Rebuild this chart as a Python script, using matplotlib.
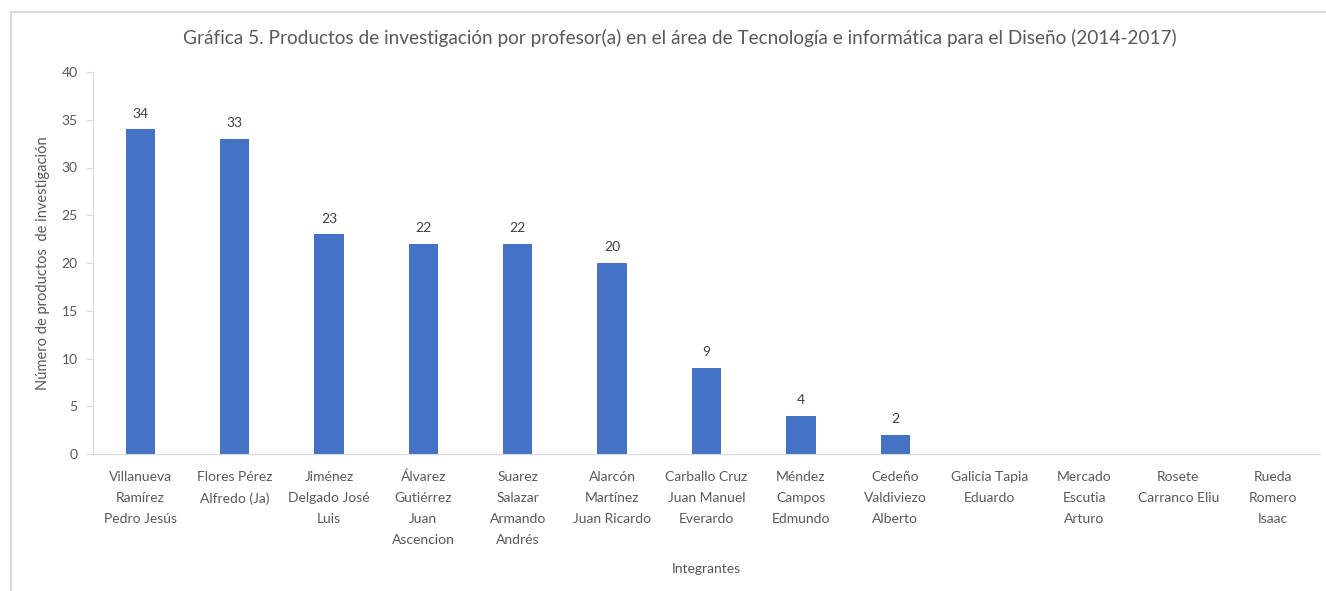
import matplotlib.pyplot as plt
from matplotlib.lines import Line2D

integrantes = [
    "Villanueva\nRamírez\nPedro Jesús",
    "Flores Pérez\nAlfredo (Ja)",
    "Jiménez\nDelgado José\nLuis",
    "Álvarez\nGutiérrez\nJuan\nAscencion",
    "Suarez\nSalazar\nArmando\nAndrés",
    "Alarcón\nMartínez\nJuan Ricardo",
    "Carballo Cruz\nJuan Manuel\nEverardo",
    "Méndez\nCampos\nEdmundo",
    "Cedeño\nValdiviezo\nAlberto",
    "Galicia Tapia\nEduardo",
    "Mercado\nEscutia\nArturo",
    "Rosete\nCarranco Eliu",
    "Rueda\nRomero\nIsaac",
]
productos = [34, 33, 23, 22, 22, 20, 9, 4, 2, 0, 0, 0, 0]
yticks = [0, 5, 10, 15, 20, 25, 30, 35, 40]

plt.rcParams['font.family'] = ['Lato', 'DejaVu Sans']
txt = '#595959'
W, H = 1326, 591

fig = plt.figure(figsize=(W / 100, H / 100), dpi=100)
ax = fig.add_axes([93 / W, 1 - 454 / H, (1320 - 93) / W, (454 - 72) / H])

x = list(range(len(integrantes)))
ax.bar(x, productos, width=0.31, color='#4472C4', zorder=2)
for xi, v in zip(x, productos):
    if v > 0:
        ax.text(xi, v + 1.0, str(v), ha='center', va='bottom', fontsize=10, color='#404040')

ax.set_xlim(-0.5, len(integrantes) - 0.5)
ax.set_ylim(0, 40)
ax.set_yticks(yticks)
ax.set_xticks(x)
ax.set_xticklabels(integrantes, fontsize=10, color=txt, linespacing=1.9, va='top')
ax.tick_params(axis='x', length=0, pad=12)
ax.tick_params(axis='y', length=5, color='#d9d9d9', labelsize=10, labelcolor=txt, pad=6)

for s in ['top', 'right']:
    ax.spines[s].set_visible(False)
ax.spines['left'].set_color('#d9d9d9')
ax.spines['bottom'].set_color('#d9d9d9')

ax.set_ylabel('Número de productos  de investigación', fontsize=10.5, color=txt, labelpad=8)
ax.set_xlabel('Integrantes', fontsize=10, color=txt, labelpad=12)
fig.text(0.5 + 17 / W, 1 - 38 / H,
         'Gráfica 5. Productos de investigación por profesor(a) en el área de Tecnología e informática para el Diseño (2014-2017)',
         ha='center', va='center', fontsize=13.7, color=txt)

# chart area border
fig.add_artist(Line2D([11 / W, 11 / W], [0, 1 - 12 / H], transform=fig.transFigure, color='#d9d9d9', lw=1.5))
fig.add_artist(Line2D([11 / W, 1], [1 - 12 / H, 1 - 12 / H], transform=fig.transFigure, color='#d9d9d9', lw=1.5))

fig.savefig('out.png', dpi=100)
